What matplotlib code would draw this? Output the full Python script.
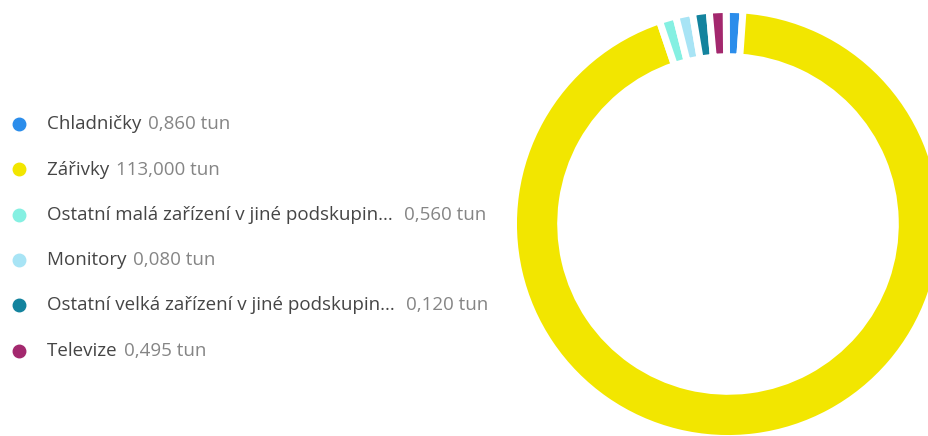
import numpy as np
import matplotlib
matplotlib.use("Agg")
import matplotlib.pyplot as plt

plt.rcParams['font.family'] = ['Open Sans', 'DejaVu Sans']

# data
categories = ["Chladničky", "Zářivky", "Ostatní malá zařízení v jiné podskupin...",
              "Monitory", "Ostatní velká zařízení v jiné podskupin...", "Televize"]
values = [0.860, 113.000, 0.560, 0.080, 0.120, 0.495]
value_labels = ["0,860 tun", "113,000 tun", "0,560 tun", "0,080 tun", "0,120 tun", "0,495 tun"]
colors = ["#2B8DEB", "#F2E600", "#85F0E2", "#A8E4F5", "#13839E", "#A3286E"]

W, H = 929, 436
fig = plt.figure(figsize=(W / 100, H / 100), dpi=100)

# tiny slices get a minimum visible share, like the original visual does
vals = np.array(values)
min_val = vals.sum() * 0.0132
shown = np.maximum(vals, min_val)

cx, cy, r = 728, 224, 214.5
ax = fig.add_axes([(cx - r) / W, (H - cy - r) / H, 2 * r / W, 2 * r / H])
ax.pie(shown, colors=colors, startangle=90.5, counterclock=False,
       wedgeprops=dict(width=0.22, edgecolor="white", linewidth=5))
ax.set_xlim(-1, 1)
ax.set_ylim(-1, 1)
ax.set_aspect("equal")
ax.axis("off")

# legend
lax = fig.add_axes([0, 0, 1, 1])
lax.set_xlim(0, W)
lax.set_ylim(H, 0)
lax.axis("off")
row_y = [124, 169.5, 214.5, 260, 305, 351]
fs = 13.5
for i, (cat, lab, col) in enumerate(zip(categories, value_labels, colors)):
    y = row_y[i]
    lax.plot(19, y, "o", color=col, markersize=9)
    t = lax.text(47, y, cat + ("  " if cat.endswith("...") else " "),
                 fontsize=fs, color="#454545", va="center", ha="left")
    fig.canvas.draw()
    bb = t.get_window_extent()
    lax.annotate(lab, xy=(bb.x1 + 2, H - y), xycoords="figure pixels",
                 fontsize=fs, color="#858585", va="center", ha="left")

fig.savefig("out.png", dpi=100)
